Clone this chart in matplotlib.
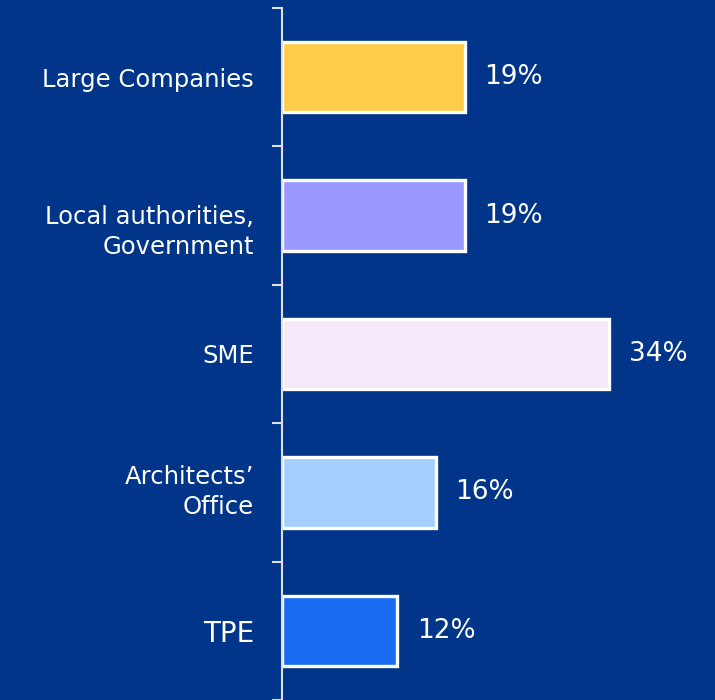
import matplotlib.pyplot as plt
import matplotlib.transforms as mtransforms
import numpy as np

categories = ["Large Companies", "Local authorities,\nGovernment", "SME",
              "Architects\u2019\nOffice", "TPE"]
values = [19, 19, 34, 16, 12]
colors = ["#FFCC4A", "#9B99FF", "#F6E8FB", "#A6CFFF", "#1A6CF0"]
bg = "#00358A"

fig = plt.figure(figsize=(7.15, 7.0), dpi=100, facecolor=bg)
ax = fig.add_axes([282 / 715, 0, 433 / 715, 692 / 700], facecolor=bg)

y = np.arange(len(categories))
ax.barh(y, values, height=0.51, color=colors, edgecolor="white", linewidth=2.4)
for yi, v in zip(y, values):
    ax.annotate(f"{v}%", (v, yi), xytext=(14, 0), textcoords="offset points",
                va="center", ha="left", color="white", fontsize=19)

ax.set_xlim(0, 45)
ax.set_ylim(len(categories) - 0.5, -0.5)
for s in ["top", "right", "bottom"]:
    ax.spines[s].set_visible(False)
ax.spines["left"].set_color("#E0E0E0")
ax.spines["left"].set_linewidth(1.5)
ax.set_xticks([])

ax.set_yticks(np.arange(-0.5, len(categories), 1.0))
ax.set_yticklabels([])
ax.tick_params(axis="y", which="major", length=7.5, width=1.5, color="#E0E0E0")
ax.set_yticks(y, minor=True)
ax.set_yticklabels(categories, minor=True, color="white", fontsize=17.5,
                   linespacing=1.3)
ax.tick_params(axis="y", which="minor", length=0, pad=20)

labels = ax.get_yticklabels(minor=True)
labels[-1].set_fontsize(20)
# the government label sits a bit low in the original, architects a bit high
down = mtransforms.ScaledTranslation(0, -8 / 72, fig.dpi_scale_trans)
labels[1].set_transform(labels[1].get_transform() + down)
up = mtransforms.ScaledTranslation(0, 4 / 72, fig.dpi_scale_trans)
labels[3].set_transform(labels[3].get_transform() + up)

fig.savefig("out.png", dpi=100, facecolor=bg)
